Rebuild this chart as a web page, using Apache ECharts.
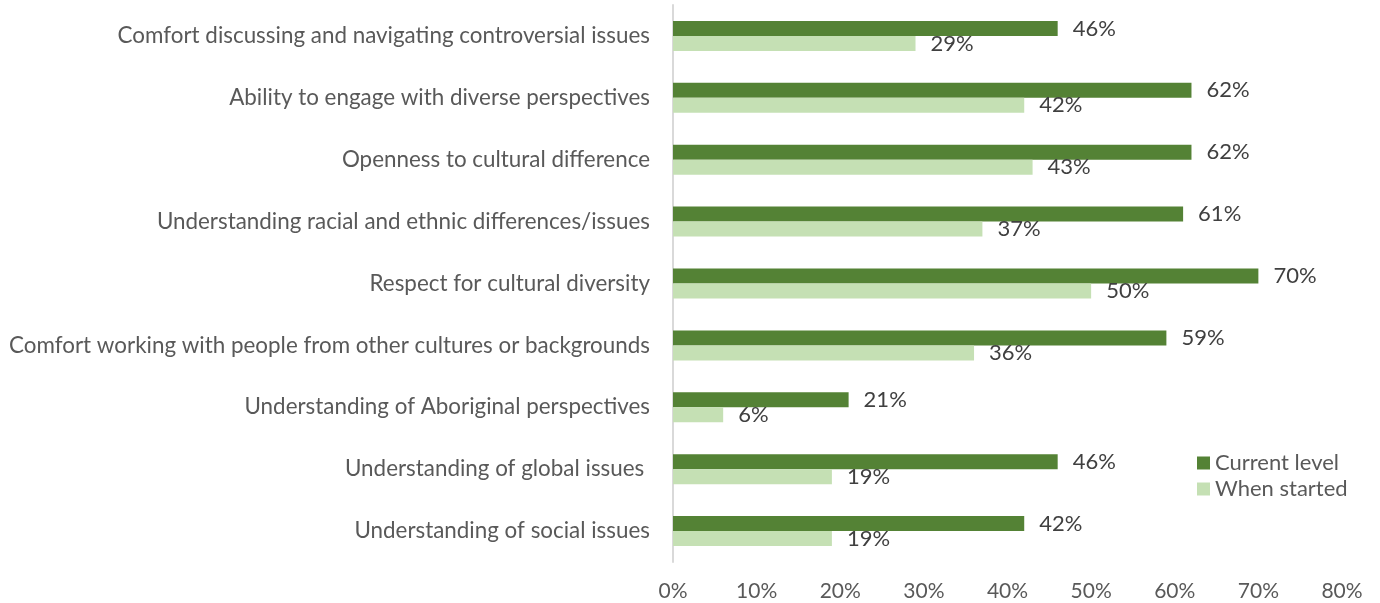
<!DOCTYPE html>
<html>
<head>
<meta charset="utf-8">
<script src="https://cdn.jsdelivr.net/npm/echarts@6/dist/echarts.min.js"></script>
<style>
  html, body { margin: 0; padding: 0; background: #ffffff; }
  #chart { width: 1380px; height: 603px; }
</style>
</head>
<body>
<div id="chart"></div>
<script>
// Skills listed from top row to bottom row
const categories = [
  'Comfort discussing and navigating controversial issues',
  'Ability to engage with diverse perspectives',
  'Openness to cultural difference',
  'Understanding racial and ethnic differences/issues',
  'Respect for cultural diversity',
  'Comfort working with people from other cultures or backgrounds',
  'Understanding of Aboriginal perspectives',
  'Understanding of global issues ',
  'Understanding of social issues'
];
const currentLevel = [46, 62, 62, 61, 70, 59, 21, 46, 42];
const whenStarted = [29, 42, 43, 37, 50, 36, 6, 19, 19];
const seriesNames = ['Current level', 'When started'];
const xTicks = { min: 0, max: 80, interval: 10 };

const FONT = 'Lato, "Open Sans", sans-serif';
const TEXT = '#595959';
const SIZE = 22;

const chart = echarts.init(document.getElementById('chart'), null, { renderer: 'canvas' });

const labelStyle = {
  show: true,
  position: 'right',
  distance: 15,
  formatter: p => p.value + '%',
  color: '#404040',
  fontFamily: FONT,
  fontSize: SIZE
};

chart.setOption({
  animation: false,
  backgroundColor: '#ffffff',
  grid: { left: 673, right: 38, top: 5, bottom: 41, containLabel: false },
  legend: {
    orient: 'vertical',
    left: 1192,
    top: 447,
    itemWidth: 13,
    itemHeight: 13,
    itemGap: 4,
    icon: 'rect',
    textStyle: { color: TEXT, fontFamily: FONT, fontSize: SIZE, lineHeight: 22, padding: [0, 0, 0, 0] },
    data: seriesNames
  },
  xAxis: {
    type: 'value',
    min: xTicks.min,
    max: xTicks.max,
    interval: xTicks.interval,
    axisLine: { show: false },
    axisTick: { show: false },
    splitLine: { show: false },
    axisLabel: {
      formatter: v => v + '%',
      color: TEXT,
      fontFamily: FONT,
      fontSize: 21,
      margin: 19
    }
  },
  yAxis: {
    type: 'category',
    inverse: true,
    data: categories,
    axisLine: { show: true, lineStyle: { color: '#D9D9D9', width: 2 } },
    axisTick: { show: false },
    axisLabel: {
      color: TEXT,
      fontFamily: FONT,
      fontSize: 22.4,
      margin: 23
    }
  },
  series: [
    {
      name: seriesNames[0],
      type: 'bar',
      data: currentLevel,
      barWidth: 15,
      barGap: '0%',
      itemStyle: { color: '#548235' },
      label: labelStyle
    },
    {
      name: seriesNames[1],
      type: 'bar',
      data: whenStarted,
      barWidth: 15,
      barGap: '0%',
      itemStyle: { color: '#C5E0B4' },
      label: labelStyle
    }
  ]
});
</script>
</body>
</html>
